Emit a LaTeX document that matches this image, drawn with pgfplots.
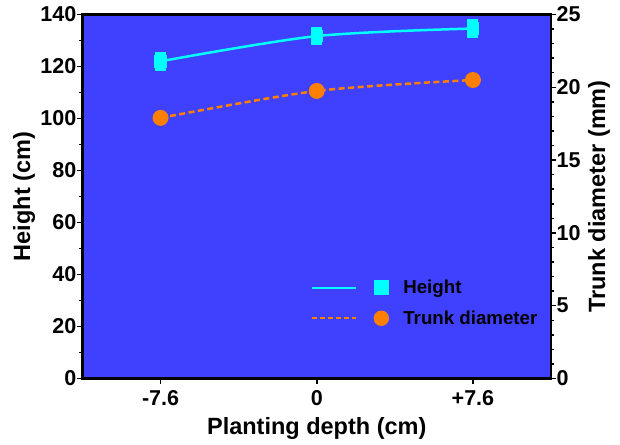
\documentclass[border=0pt]{standalone}
\usepackage{fontspec}
\setmainfont{Liberation Sans}
\usepackage{pgfplots}
\pgfplotsset{compat=1.18}
\definecolor{bgblue}{HTML}{4040FF}
\definecolor{mycyan}{HTML}{00FFFF}
\definecolor{myorange}{HTML}{FF8000}
\begin{document}
\begin{tikzpicture}
\pgfplotsset{every axis/.append style={
  scale only axis, width=468.5pt, height=364pt,
  xmin=-1.5, xmax=1.5,
  font=\fontsize{21.5}{24}\selectfont\bfseries,
  /pgf/number format/assume math mode=true,
  tick align=outside,
  major tick length=5pt, minor tick length=3pt,
  every tick/.style={black, line width=1.5pt},
  axis line style={line width=2.5pt},
  label style={font=\fontsize{23.5}{26}\selectfont\bfseries},
  yticklabel style={inner sep=1pt},
}}
\begin{axis}[
  axis background/.style={fill=bgblue},
  ymin=0, ymax=140, ytick={0,20,...,140}, minor ytick={10,30,...,130},
  xtick={-1,0,1}, xticklabels={-7.6,0,+7.6},
  xtick pos=bottom, ytick pos=left,
  xticklabel style={inner sep=0pt, anchor=north, yshift=-7pt},
  xlabel={Planting depth (cm)}, ylabel={Height (cm)},
  xlabel style={at={([yshift=-55.5pt]rel axis cs:0.5,0)}, anchor=base},
  ylabel style={at={([xshift=-58.5pt]rel axis cs:0,0.5)}, anchor=center},
]
\coordinate (SW) at (rel axis cs:0,0);
\coordinate (NE) at (rel axis cs:1,1);
\addplot[mycyan, line width=2.5pt, smooth, mark=square*, mark size=5pt,
  error bars/.cd, y dir=both, y explicit,
  error bar style={line width=3pt, mycyan},
  error mark options={rotate=90, mark size=5.5pt, line width=3pt, mycyan}]
  table[x=x, y=y, y error=e] {
  x y e
  -1 122.0 3
  0 131.7 3
  1 134.6 3
};
\end{axis}
\begin{axis}[
  axis x line=none, axis y line*=right,
  ymin=0, ymax=25, ytick={0,5,...,25}, minor ytick={1,...,24},
  yticklabel style={inner sep=0.5pt},
  ylabel={Trunk diameter (mm)},
  ylabel style={at={([xshift=48pt]rel axis cs:1,0.5)}, anchor=center},
  legend style={at={([xshift=-3pt,yshift=0pt]rel axis cs:0.488,0.2816)}, anchor=north west, draw=none, fill=none,
    font=\fontsize{18.7}{22}\selectfont\bfseries, row sep=11.5pt,
    legend cell align=left},
  legend image code/.code={
    \draw[#1, mark=none] (0pt,0pt) -- (44pt,0pt);
    \draw[#1] plot coordinates {(69pt,0pt)};
    \path (88pt,0pt);
  },
]
\addlegendimage{mycyan, line width=1.8pt, mark=square*, mark size=6.5pt}
\addlegendentry{Height}
\addplot[myorange, line width=2.5pt, dash pattern=on 6pt off 3.5pt, smooth, mark=*, mark size=6.7pt, mark options={solid},
  legend image post style={myorange, line width=2pt, dash pattern=on 5pt off 3pt}]
  coordinates {(-1,17.9) (0,19.75) (1,20.5)};
\addlegendentry{Trunk diameter}
\end{axis}
\pgfresetboundingbox
\path ([shift={(-82.5pt,-65.5pt)}]SW) rectangle ([shift={(69pt,14.5pt)}]NE);
\end{tikzpicture}
\end{document}
